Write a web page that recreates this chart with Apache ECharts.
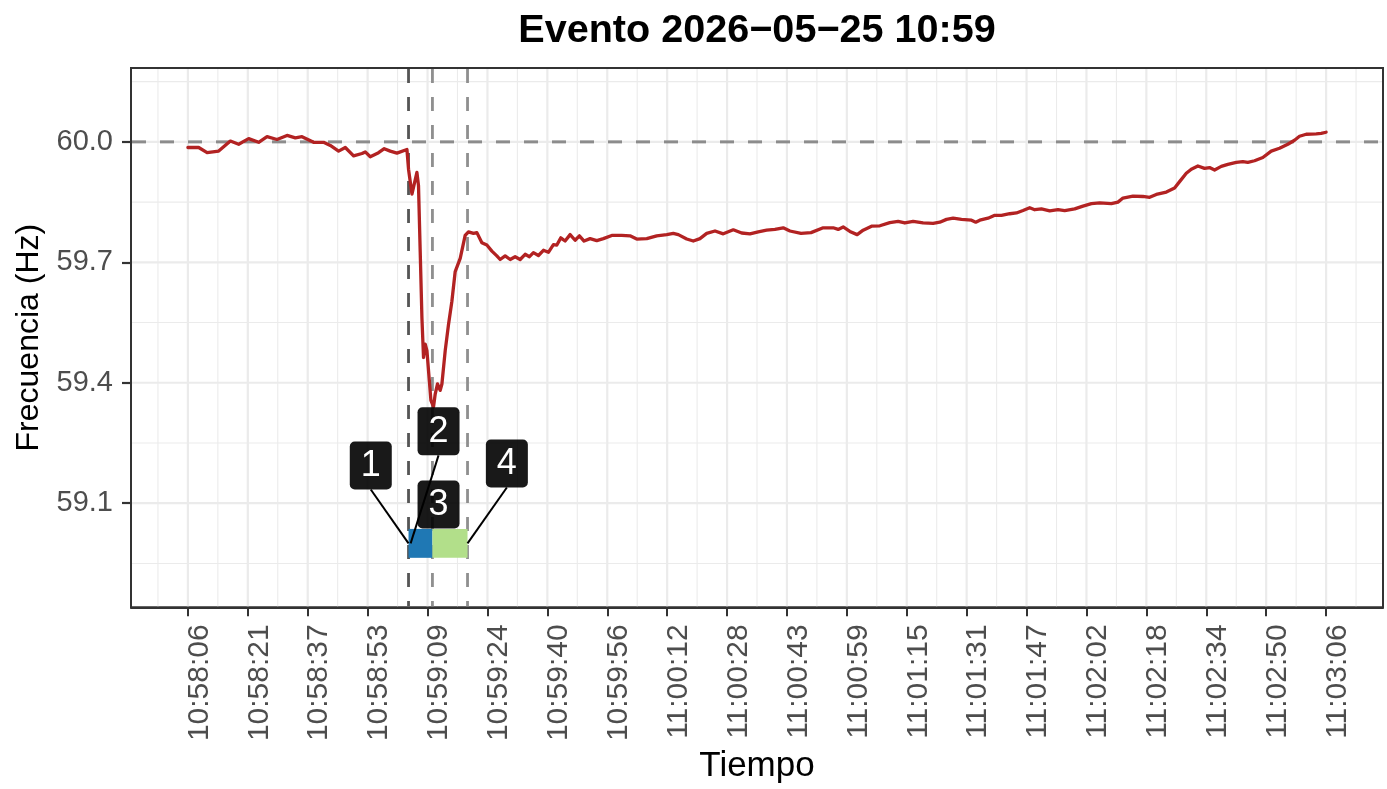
<!DOCTYPE html>
<html>
<head>
<meta charset="utf-8">
<script src="https://cdn.jsdelivr.net/npm/echarts@6/dist/echarts.min.js"></script>
<style>
html,body{margin:0;padding:0;background:#ffffff;}
#chart{width:1387px;height:789px;}
</style>
</head>
<body>
<div id="chart"></div>
<script>
// ---------------- data ----------------
const chartTitle = 'Evento 2026−05−25 10:59';
const xAxisTitle = 'Tiempo';
const yAxisTitle = 'Frecuencia (Hz)';

// seconds elapsed since 10:58:06
const timeSec = [
  0, 2.84, 5.06, 8.11, 11.19, 13.38, 16.01, 18.65, 20.86, 23.49, 26.13, 28.31, 30.08, 33.13, 35.76, 37.53,
  39.72, 41.48, 43.67, 45.88, 46.75, 48.06, 50.25, 51.75, 53.33, 55.10, 57.73, 58.15, 59.05, 60.36, 60.78,
  61.23, 61.68, 62.10, 62.55, 63.00, 63.42, 64.05, 64.74, 65.18, 65.79, 66.50, 66.95, 67.82, 68.69, 69.58,
  70.45, 71.77, 73.08, 73.95, 75.27, 76.17, 77.48, 78.80, 80.12, 81.43, 82.30, 83.62, 84.94, 86.25, 87.57,
  88.89, 90.02, 91.07, 92.39, 93.71, 95.02, 96.34, 97.24, 98.29, 99.42, 100.74, 102.06, 103.19, 104.42,
  106.00, 107.77, 109.51, 111.72, 114.35, 116.54, 118.30, 120.94, 123.57, 126.21, 127.94, 129.26, 131.47,
  133.21, 134.97, 136.74, 138.93, 141.11, 143.75, 145.96, 148.14, 150.33, 152.54, 154.73, 156.91, 158.68,
  161.60, 164.24, 167.45, 170.08, 171.40, 172.71, 174.48, 176.40, 177.98, 180.19, 182.38, 185.01, 187.20,
  188.96, 191.15, 193.78, 196.42, 198.18, 199.95, 201.69, 203.90, 206.53, 207.66, 208.72, 210.90, 212.67,
  214.43, 216.62, 218.38, 220.12, 221.88, 223.20, 224.97, 227.15, 229.34, 231.10, 233.74, 235.92, 238.14,
  240.32, 243.40, 245.14, 246.46, 249.09, 251.72, 253.49, 255.25, 257.89, 260.07, 261.39, 263.15, 264.47,
  266.21, 267.97, 269.29, 270.61, 272.37, 274.11, 276.32, 278.06, 279.38, 281.14, 283.33, 285.54, 287.73,
  289.91, 291.68, 293.00, 294.76, 297.39, 298.71, 300.00
];
const freqHz = [
  59.986, 59.986, 59.973, 59.977, 60.002, 59.994, 60.008, 59.999, 60.013, 60.006, 60.016, 60.010, 60.013, 59.999, 59.999, 59.991,
  59.977, 59.986, 59.965, 59.971, 59.975, 59.963, 59.973, 59.983, 59.977, 59.972, 59.981, 59.932, 59.870, 59.924, 59.891,
  59.726, 59.562, 59.463, 59.496, 59.480, 59.430, 59.356, 59.340, 59.372, 59.397, 59.381, 59.397, 59.480, 59.545, 59.603,
  59.677, 59.710, 59.767, 59.776, 59.772, 59.774, 59.749, 59.743, 59.728, 59.716, 59.707, 59.716, 59.707, 59.714, 59.707,
  59.720, 59.714, 59.724, 59.717, 59.730, 59.725, 59.744, 59.743, 59.761, 59.753, 59.769, 59.755, 59.766, 59.753,
  59.759, 59.754, 59.759, 59.767, 59.767, 59.766, 59.758, 59.759, 59.766, 59.769, 59.772, 59.769, 59.758,
  59.753, 59.759, 59.772, 59.778, 59.771, 59.781, 59.773, 59.771, 59.776, 59.780, 59.782, 59.786, 59.778,
  59.772, 59.774, 59.786, 59.786, 59.782, 59.788, 59.777, 59.769, 59.780, 59.790, 59.791, 59.799, 59.802,
  59.798, 59.802, 59.798, 59.797, 59.800, 59.807, 59.810, 59.807, 59.805, 59.800, 59.805, 59.810, 59.817,
  59.817, 59.821, 59.823, 59.829, 59.836, 59.831, 59.833, 59.828, 59.831, 59.829, 59.833, 59.840, 59.846,
  59.848, 59.846, 59.850, 59.860, 59.865, 59.864, 59.862, 59.869, 59.875, 59.885, 59.901, 59.922, 59.932,
  59.940, 59.934, 59.936, 59.930, 59.939, 59.944, 59.949, 59.951, 59.949, 59.953, 59.961, 59.977, 59.984,
  59.994, 60.004, 60.014, 60.019, 60.020, 60.021, 60.024
];

const xTickSec = [0, 15.79, 31.58, 47.37, 63.16, 78.95, 94.74, 110.53, 126.32, 142.11, 157.89, 173.68,
  189.47, 205.26, 221.05, 236.84, 252.63, 268.42, 284.21, 300];
const xTickLabels = ['10:58:06','10:58:21','10:58:37','10:58:53','10:59:09','10:59:24','10:59:40','10:59:56',
  '11:00:12','11:00:28','11:00:43','11:00:59','11:01:15','11:01:31','11:01:47','11:02:02','11:02:18',
  '11:02:34','11:02:50','11:03:06'];
const yTicks = [59.1, 59.4, 59.7, 60.0];
const yTickLabels = ['59.1', '59.4', '59.7', '60.0'];

const nominalHz = [60.0];
const eventSec = [58.15, 64.45, 73.7];          // dashed vertical markers
const stageStart = [58.15, 64.45];
const stageEnd = [64.45, 73.7];
const stageLowHz = [58.964, 58.964];
const stageHighHz = [59.036, 59.036];

const markerIds = ['1', '2', '3', '4'];
const markerSec = [58.15, 58.7, 64.45, 73.7];
const markerHz = [59.0, 59.0, 59.0, 59.0];

// ---------------- layout / style (not data) ----------------
const FONT = '"Liberation Sans", Arial, Helvetica, sans-serif';
const X_MIN = -15, X_MAX = 315, Y_MIN = 58.8407, Y_MAX = 60.184;
const labelSec = [48.2, 66.06, 66.06, 84.07];   // repelled label box centres
const labelHz = [59.194, 59.279, 59.097, 59.199];
const labelSegment = [true, true, false, true];
const eventColors = ['#555555', '#8f8f8f', '#8f8f8f'];
const stageColors = ['#1F78B4', '#B2DF8A'];

const xStep = xTickSec[1] - xTickSec[0];
const xMinor = [xTickSec[0] - xStep / 2];
for (let i = 0; i < xTickSec.length - 1; i++) xMinor.push((xTickSec[i] + xTickSec[i + 1]) / 2);
xMinor.push(xTickSec[xTickSec.length - 1] + xStep / 2);
const yMinor = [58.95, 59.25, 59.55, 59.85, 60.15];

function ruleSeries(values, vertical, style, z) {
  return {
    type: 'custom', silent: true, z: z, animation: false,
    data: values.map(v => vertical ? [v, 59.5] : [0, v]),
    renderItem: function (params, api) {
      const cs = params.coordSys;
      const st = Object.assign({ fill: null }, typeof style === 'function' ? style(params.dataIndex) : style);
      if (vertical) {
        const x = api.coord([api.value(0), 59.5])[0];
        return { type: 'line', shape: { x1: x, y1: cs.y + 1, x2: x, y2: cs.y + cs.height - 1 }, style: st };
      } else {
        const y = api.coord([0, api.value(1)])[1];
        return { type: 'line', shape: { x1: cs.x + 1, y1: y, x2: cs.x + cs.width - 1, y2: y }, style: st };
      }
    }
  };
}

const chart = echarts.init(document.getElementById('chart'), null, { renderer: 'canvas' });

const axisLineStyle = { color: '#333333', width: 2 };

const option = {
  animation: false,
  backgroundColor: '#ffffff',
  graphic: [{
    type: 'text', x: 757, y: 11, silent: true,
    style: {
      text: chartTitle, align: 'center', verticalAlign: 'top', textAlign: 'center', textVerticalAlign: 'top',
      fontFamily: FONT, fontWeight: 'bold', fontSize: 39.6, fill: '#000000'
    }
  }],
  grid: {
    left: 131, right: 4, top: 68, bottom: 177,
    show: true, borderColor: '#333333', borderWidth: 2, backgroundColor: 'transparent'
  },
  xAxis: {
    type: 'value', min: X_MIN, max: X_MAX, position: 'bottom',
    name: xAxisTitle, nameLocation: 'middle', nameGap: 138,
    nameTextStyle: { fontFamily: FONT, fontSize: 35, color: '#000000' },
    axisLine: { show: true, onZero: false, lineStyle: axisLineStyle },
    axisTick: { show: true, customValues: xTickSec, length: 9, lineStyle: axisLineStyle },
    axisLabel: {
      customValues: xTickSec, rotate: 90, margin: 17, hideOverlap: false,
      fontFamily: FONT, fontSize: 30, color: '#4D4D4D', verticalAlign: 'top', lineHeight: 23,
      formatter: function (v) {
        for (let i = 0; i < xTickSec.length; i++) if (Math.abs(xTickSec[i] - v) < 0.01) return xTickLabels[i];
        return '';
      }
    },
    splitLine: { show: false }, minorSplitLine: { show: false }
  },
  yAxis: {
    type: 'value', min: Y_MIN, max: Y_MAX, position: 'left',
    name: yAxisTitle, nameLocation: 'middle', nameGap: 82,
    nameTextStyle: { fontFamily: FONT, fontSize: 32, color: '#000000' },
    axisLine: { show: true, onZero: false, lineStyle: axisLineStyle },
    axisTick: { show: true, customValues: yTicks, length: 9, lineStyle: { color: '#333333', width: 2.2 } },
    axisLabel: {
      customValues: yTicks, margin: 18, hideOverlap: false,
      fontFamily: FONT, fontSize: 29, color: '#4D4D4D',
      formatter: function (v) {
        for (let i = 0; i < yTicks.length; i++) if (Math.abs(yTicks[i] - v) < 1e-6) return yTickLabels[i];
        return '';
      }
    },
    splitLine: { show: false }, minorSplitLine: { show: false }
  },
  series: [
    ruleSeries(xMinor, true, { stroke: '#EBEBEB', lineWidth: 1.1 }, 0),
    ruleSeries(yMinor, false, { stroke: '#EBEBEB', lineWidth: 1.1 }, 0),
    ruleSeries(xTickSec, true, { stroke: '#EBEBEB', lineWidth: 2.2 }, 0),
    ruleSeries(yTicks, false, { stroke: '#EBEBEB', lineWidth: 2.2 }, 0),
    ruleSeries(nominalHz, false, { stroke: '#8c8c8c', lineWidth: 3, lineDash: [14, 14] }, 1),
    ruleSeries(eventSec, true, function (i) { return { stroke: eventColors[i], lineWidth: 2.8, lineDash: [14, 14] }; }, 1),
    {
      type: 'custom', silent: true, z: 2, animation: false,
      data: stageStart.map((s, i) => [s, stageLowHz[i], stageEnd[i], stageHighHz[i]]),
      renderItem: function (params, api) {
        const p0 = api.coord([api.value(0), api.value(3)]);
        const p1 = api.coord([api.value(2), api.value(1)]);
        return { type: 'rect', shape: { x: p0[0], y: p0[1], width: p1[0] - p0[0], height: p1[1] - p0[1] },
          style: { fill: stageColors[params.dataIndex] } };
      }
    },
    {
      type: 'line', z: 3, animation: false, silent: true,
      data: timeSec.map((t, i) => [t, freqHz[i]]),
      showSymbol: false, symbol: 'none',
      lineStyle: { color: '#B22222', width: 3.3, join: 'round', cap: 'round' }
    },
    {
      type: 'custom', silent: true, z: 4, animation: false,
      data: markerIds.map((m, i) => [labelSec[i], labelHz[i], markerSec[i], markerHz[i]]),
      renderItem: function (params, api) {
        if (!labelSegment[params.dataIndex]) return { type: 'group', children: [] };
        const c = api.coord([api.value(0), api.value(1)]);
        const a = api.coord([api.value(2), api.value(3)]);
        return { type: 'line', shape: { x1: c[0], y1: c[1] + 24, x2: a[0], y2: a[1] },
          style: { stroke: '#000000', lineWidth: 2 } };
      }
    },
    {
      type: 'custom', silent: true, z: 5, animation: false,
      data: markerIds.map((m, i) => [labelSec[i], labelHz[i]]),
      renderItem: function (params, api) {
        const c = api.coord([api.value(0), api.value(1)]);
        return {
          type: 'group',
          children: [
            { type: 'rect', shape: { x: c[0] - 21, y: c[1] - 24, width: 42, height: 48, r: 5 },
              style: { fill: 'rgba(0,0,0,0.9)' } },
            { type: 'text', style: { text: markerIds[params.dataIndex], x: c[0], y: c[1] + 1,
                align: 'center', verticalAlign: 'middle', textAlign: 'center', textVerticalAlign: 'middle',
                fill: '#ffffff', fontSize: 36, fontFamily: FONT } }
          ]
        };
      }
    }
  ]
};
chart.setOption(option);
</script>
</body>
</html>
